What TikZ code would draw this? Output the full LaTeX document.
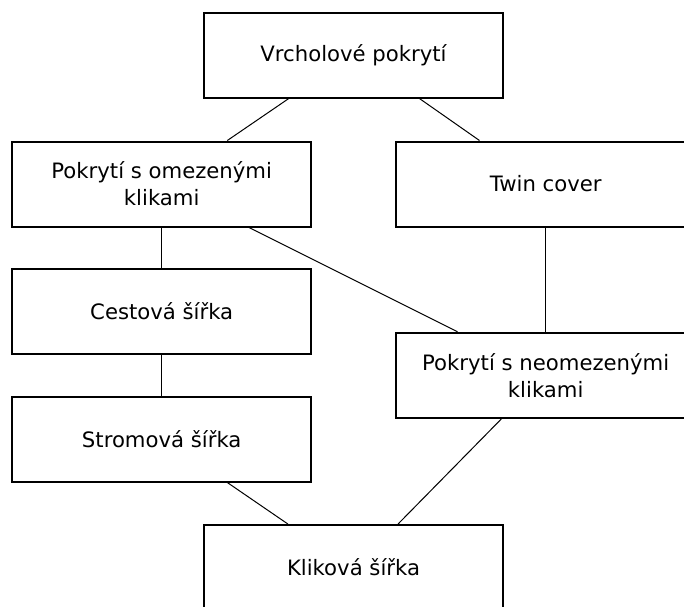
\documentclass[tikz,border=0pt]{standalone}
\usepackage{fontspec}
\setmainfont{DejaVu Sans}
\usetikzlibrary{calc}
\begin{document}
\begin{tikzpicture}[x=1pt,y=-1pt,
  box/.style={draw=black,line width=2pt,rectangle,minimum width=299pt,minimum height=85pt,
    inner sep=0pt,align=center,font=\fontsize{21.2}{27}\selectfont},
  conn/.style={draw=black,line width=1pt}]
\useasboundingbox (0,0) rectangle (684,606);
\clip (0,0) rectangle (684,606);
\node[box] (top)   at (353.5,55.2) {Vrcholové pokrytí};
\node[box] (omez)  at (161.7,184)  {Pokrytí s omezenými\\klikami};
\node[box] (twin)  at (545.7,184)  {Twin cover};
\node[box] (cest)  at (161.7,311)  {Cestová šířka};
\node[box] (neom)  at (545.7,375.3){Pokrytí s neomezenými\\klikami};
\node[box] (strom) at (161.7,439)  {Stromová šířka};
\node[box] (klik)  at (353.5,567.5){Kliková šířka};
\draw[conn] ($(top.south west)!0.284!(top.south east)$) -- ($(omez.north west)!0.718!(omez.north east)$);
\draw[conn] ($(top.south west)!0.72!(top.south east)$) -- ($(twin.north west)!0.28!(twin.north east)$);
\draw[conn] (omez.south) -- (cest.north);
\draw[conn] ($(omez.south west)!0.79!(omez.south east)$) -- ($(neom.north west)!0.207!(neom.north east)$);
\draw[conn] (twin.south) -- (neom.north);
\draw[conn] (cest.south) -- (strom.north);
\draw[conn] ($(strom.south west)!0.718!(strom.south east)$) -- ($(klik.north west)!0.282!(klik.north east)$);
\draw[conn] ($(neom.south west)!0.353!(neom.south east)$) -- ($(klik.north west)!0.648!(klik.north east)$);
\end{tikzpicture}
\end{document}
